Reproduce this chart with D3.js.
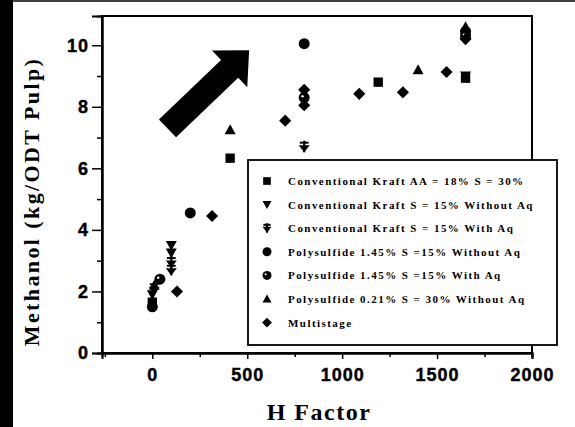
<!DOCTYPE html>
<html><head><meta charset="utf-8">
<script src="https://cdn.jsdelivr.net/npm/d3@7"></script>
<style>
html,body{margin:0;padding:0;background:#fff;}
svg{display:block;}
</style></head>
<body>
<svg id="c" width="575" height="427"></svg>
<script>
// ---- data ----
const seriesNames = [
  "Conventional Kraft AA = 18% S = 30%",
  "Conventional Kraft S = 15% Without Aq",
  "Conventional Kraft S = 15% With Aq",
  "Polysulfide 1.45% S =15% Without Aq",
  "Polysulfide 1.45% S =15% With Aq",
  "Polysulfide 0.21% S = 30% Without Aq",
  "Multistage"
];
const seriesSymbols = ["square","triDown","triCross","circle","circleDot","triUp","diamond"];

const kraftAA_H = [0, 410, 1190, 1650];
const kraftAA_M = [1.65, 6.33, 8.8, 8.93];
const kraftNoAq_H = [0, 100, 100, 1650];
const kraftNoAq_M = [1.9, 3.5, 3.25, 9.0];
const kraftAq_H = [10, 100, 100, 800];
const kraftAq_M = [2.1, 2.95, 2.7, 6.7];
const poly145NoAq_H = [0, 200, 800, 1650];
const poly145NoAq_M = [1.5, 4.55, 10.05, 10.45];
const poly145Aq_H = [40, 800, 1650];
const poly145Aq_M = [2.4, 8.3, 10.3];
const poly021_H = [10, 410, 1400, 1650];
const poly021_M = [2.2, 7.25, 9.2, 10.6];
const multi_H = [130, 315, 700, 800, 800, 1090, 1320, 1550, 1650];
const multi_M = [2.0, 4.45, 7.55, 8.55, 8.05, 8.42, 8.47, 9.13, 10.2];

const seriesH = [kraftAA_H, kraftNoAq_H, kraftAq_H, poly145NoAq_H, poly145Aq_H, poly021_H, multi_H];
const seriesM = [kraftAA_M, kraftNoAq_M, kraftAq_M, poly145NoAq_M, poly145Aq_M, poly021_M, multi_M];

const xTicks = [0, 500, 1000, 1500, 2000];
const xMinorTicks = [-250, 250, 750, 1250, 1750];
const yTicks = [0, 2, 4, 6, 8, 10];
const yMinorTicks = [1, 3, 5, 7, 9];
const xTitle = "H Factor";
const yTitle = "Methanol (kg/ODT Pulp)";
// annotation arrow (data coords): tail centre and tip
const arrowTail = [80, 7.3];
const arrowTip = [510, 9.84];

// ---- layout ----
const svg = d3.select("#c");
const L = 102, R = 532, T = 16, B = 353;
const x = d3.scaleLinear().domain([-265, 2000]).range([L, R]);
const y = d3.scaleLinear().domain([0, 10.95]).range([B, T]);

// scan artifacts: dark left strip, thin top line
svg.append("rect").attr("x",0).attr("y",0).attr("width",13).attr("height",427).attr("fill","#000");
svg.append("line").attr("x1",13).attr("x2",575).attr("y1",1).attr("y2",1).attr("stroke","#000").attr("stroke-width",1.5);

// frame
svg.append("rect").attr("x",L).attr("y",T).attr("width",R-L).attr("height",B-T)
  .attr("fill","none").attr("stroke","#000").attr("stroke-width",2);

// axes
const fontTick = "'Liberation Sans', Arial, sans-serif";
svg.append("g").attr("transform",`translate(${L},0)`)
  .call(d3.axisLeft(y).tickValues(yTicks).tickSize(10).tickPadding(3).tickFormat(d3.format("d")));
svg.append("g").attr("transform",`translate(${L},0)`)
  .call(d3.axisLeft(y).tickValues(yMinorTicks).tickSize(5).tickFormat(""));
svg.append("g").attr("transform",`translate(0,${B})`)
  .call(d3.axisBottom(x).tickValues(xTicks).tickSize(6).tickPadding(9).tickFormat(d3.format("d")));
svg.append("g").attr("transform",`translate(0,${B})`)
  .call(d3.axisBottom(x).tickValues(xMinorTicks.filter(v=>v>=-265)).tickSize(4).tickFormat(""));
svg.selectAll(".domain").attr("stroke","#000").attr("stroke-width",2);
svg.selectAll(".tick line").attr("stroke","#000").attr("stroke-width",1.5);
svg.selectAll(".tick text").attr("font-family",fontTick).attr("font-weight","bold")
  .attr("font-size","18px").attr("fill","#000").style("letter-spacing","1px")
  .attr("stroke","#000").attr("stroke-width",0.4);

// axis titles
svg.append("text").attr("x",(L+R)/2+2).attr("y",420).attr("text-anchor","middle")
  .attr("font-family","'Liberation Serif','Times New Roman',serif").attr("font-size","24px")
  .attr("font-weight","bold").style("letter-spacing","1.5px").text(xTitle);
svg.append("text").attr("transform",`translate(39,${(T+B)/2+17}) rotate(-90)`).attr("text-anchor","middle")
  .attr("font-family","'Liberation Serif','Times New Roman',serif").attr("font-size","22px")
  .attr("font-weight","bold").style("letter-spacing","2.4px").text(yTitle);

// arrow
(function(){
  const tx = x(arrowTip[0]), ty = y(arrowTip[1]);
  const sx = x(arrowTail[0]), sy = y(arrowTail[1]);
  const len = Math.hypot(tx-sx, ty-sy);
  const dx = (tx-sx)/len, dy = (ty-sy)/len;
  const nx = -dy, ny = dx;
  const hw = 12.4, headLen = 27, headHW = 25.5;
  const bx = tx - dx*headLen, by = ty - dy*headLen;
  const pts = [
    [sx + nx*hw, sy + ny*hw],
    [bx + nx*hw, by + ny*hw],
    [bx + nx*headHW, by + ny*headHW],
    [tx, ty],
    [bx - nx*headHW, by - ny*headHW],
    [bx - nx*hw, by - ny*hw],
    [sx - nx*hw, sy - ny*hw]
  ];
  svg.append("path").attr("d", d3.line()(pts) + "Z").attr("fill","#000");
})();

// symbol drawing
function drawSymbol(g, type, cx, cy, s) {
  const gg = g.append("g").attr("transform",`translate(${cx},${cy})`);
  const h = s/2;
  if (type === "square") {
    gg.append("rect").attr("x",-h*0.85).attr("y",-h*0.85).attr("width",s*0.85).attr("height",s*0.85).attr("fill","#000");
  } else if (type === "triDown") {
    gg.append("path").attr("d",`M${-h},${-h*0.8}L${h},${-h*0.8}L0,${h}Z`).attr("fill","#000");
  } else if (type === "triUp") {
    gg.append("path").attr("d",`M${-h},${h*0.8}L${h},${h*0.8}L0,${-h}Z`).attr("fill","#000");
  } else if (type === "triCross") {
    gg.append("path").attr("d",`M${-h},${-h*0.3}L${h},${-h*0.3}L0,${h}Z`).attr("fill","#000");
    gg.append("line").attr("x1",0).attr("x2",0).attr("y1",-h*1.1).attr("y2",h).attr("stroke","#000").attr("stroke-width",2.2);
    gg.append("line").attr("x1",-h*0.8).attr("x2",h*0.8).attr("y1",-h*0.75).attr("y2",-h*0.75).attr("stroke","#000").attr("stroke-width",2);
  } else if (type === "circle") {
    gg.append("circle").attr("r",h).attr("fill","#000");
  } else if (type === "circleDot") {
    gg.append("circle").attr("r",h).attr("fill","#000");
    gg.append("circle").attr("cx",-h*0.3).attr("cy",-h*0.25).attr("r",h*0.22).attr("fill","#fff");
  } else if (type === "diamond") {
    gg.append("path").attr("d",`M0,${-h*1.1}L${h*1.1},0L0,${h*1.1}L${-h*1.1},0Z`).attr("fill","#000");
  }
}

// data points
const pts = svg.append("g");
seriesH.forEach((hs, i) => {
  hs.forEach((hv, j) => drawSymbol(pts, seriesSymbols[i], x(hv), y(seriesM[i][j]), 11));
});

// legend
const lg = svg.append("g");
lg.append("rect").attr("x",248).attr("y",160).attr("width",309).attr("height",185)
  .attr("fill","#fff").attr("stroke","#000").attr("stroke-width",1.8);
seriesNames.forEach((name, i) => {
  const yy = 181 + i*23.6;
  drawSymbol(lg, seriesSymbols[i], 267, yy, 9);
  lg.append("text").attr("x",288).attr("y",yy+4).attr("font-family","'Liberation Serif','Times New Roman',serif")
    .attr("font-size","11px").attr("font-weight","bold").style("letter-spacing","1.45px").text(name);
});
</script>
</body></html>
